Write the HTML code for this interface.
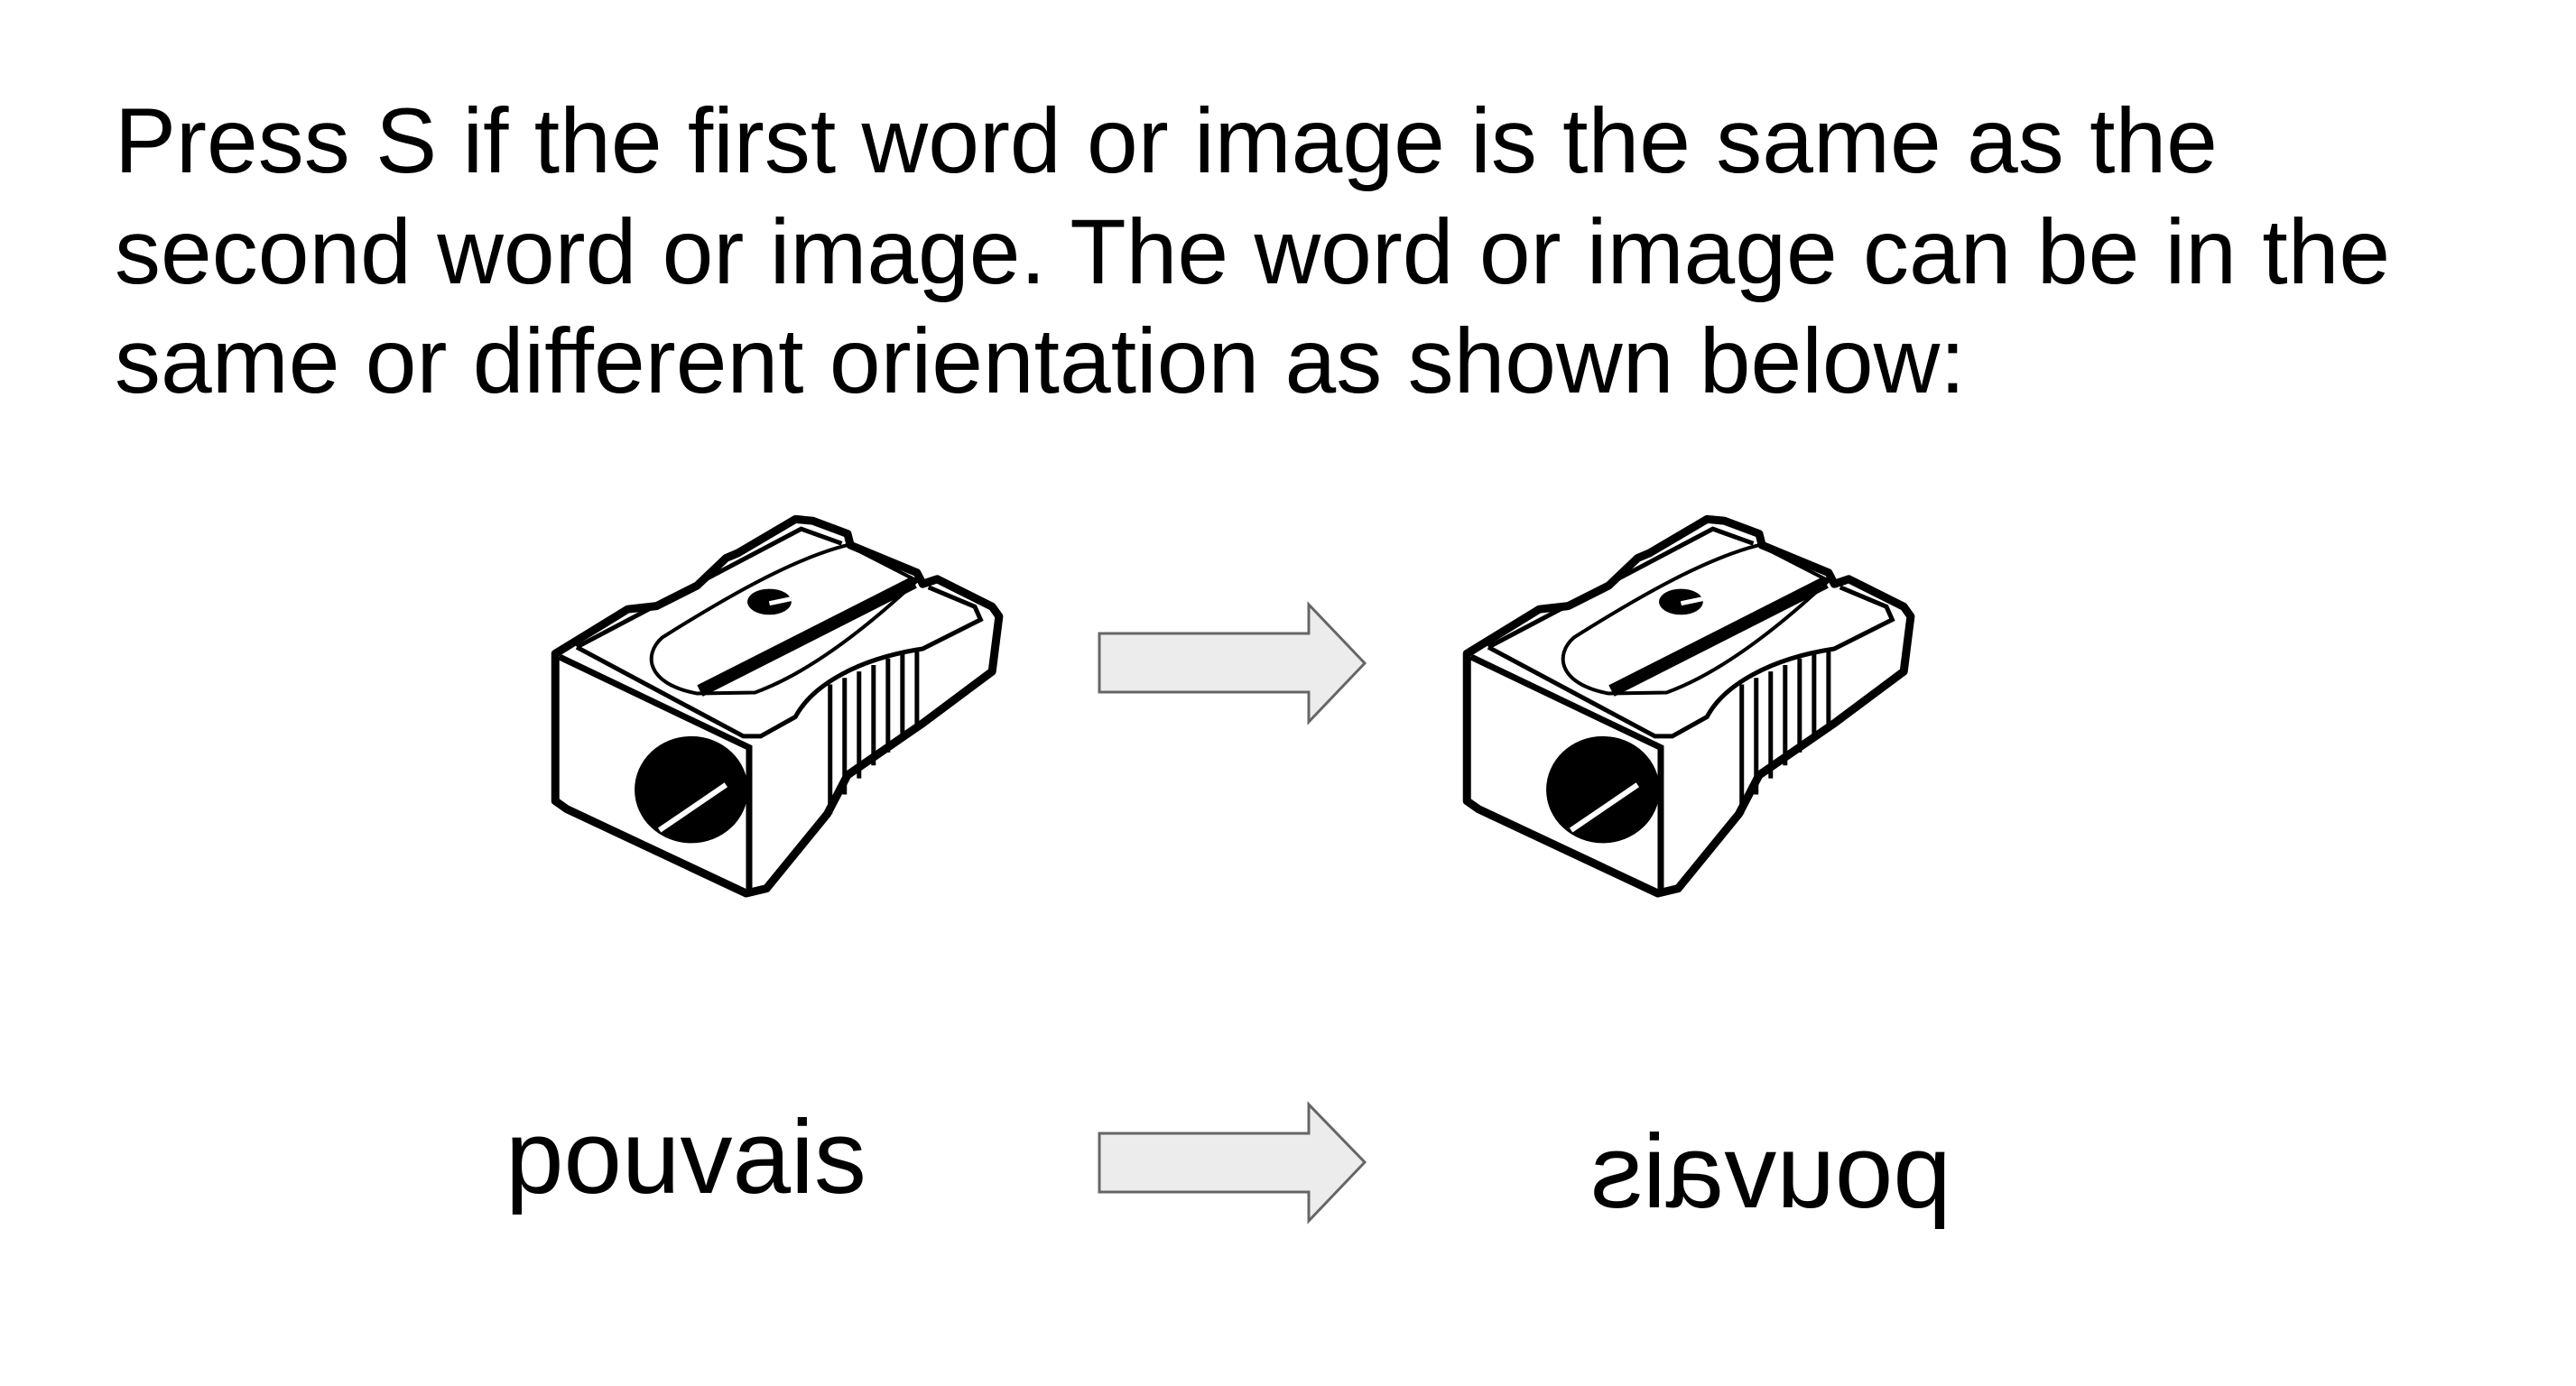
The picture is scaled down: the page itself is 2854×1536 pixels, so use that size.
<!DOCTYPE html>
<html><head><meta charset="utf-8"><style>
html,body{margin:0;padding:0;background:#fff;}
body{width:2854px;height:1536px;position:relative;overflow:hidden;font-family:"Liberation Sans",Arial,sans-serif;color:#000;}
.l{position:absolute;left:127px;font-size:102px;line-height:100px;white-space:nowrap;}
.w{position:absolute;font-size:116px;line-height:118px;white-space:nowrap;}
svg{position:absolute;left:0;top:0;}
</style></head><body>
<div class="l" style="top:106px">Press S if the first word or image is the same as the</div>
<div class="l" style="top:229px">second word or image. The word or image can be in the</div>
<div class="l" style="top:350px">same or different orientation as shown below:</div>

<svg width="2854" height="1536" viewBox="0 0 2854 1536">
<defs>
<g id="sh">
 <path d="M55,625 L180,488 L230,478 L300,415 L350,330 L370,315 L470,210 L500,215 L560,255 L565,290 L680,375 L690,410 L715,395 L810,480 L822,510 L810,680 L690,840 L560,1000 L525,1120 L420,1350 L385,1365 L75,1105 L55,1080 Z" fill="#fff" stroke="#000" stroke-width="9" vector-effect="non-scaling-stroke" stroke-linejoin="round"/>
 <path d="M62,635 L390,915 L390,1360" fill="none" stroke="#000" stroke-width="7" vector-effect="non-scaling-stroke"/>
 <path d="M92,605 L380,880 L410,880 L470,820 C500,720 580,640 690,610 L790,520 L780,480 L700,420" fill="none" stroke="#000" stroke-width="5" vector-effect="non-scaling-stroke"/>
 <path d="M92,605 L480,240 L550,285" fill="none" stroke="#000" stroke-width="5" vector-effect="non-scaling-stroke"/>
 <path d="M240,575 C205,630 215,720 300,748 L400,745 C470,700 560,600 680,400 L560,290 C470,330 360,440 240,575 Z" fill="none" stroke="#000" stroke-width="4" vector-effect="non-scaling-stroke"/>
 <path d="M305,740 L675,405" stroke="#000" stroke-width="14" vector-effect="non-scaling-stroke" fill="none"/>
 <ellipse cx="425" cy="465" rx="38" ry="40" fill="#000"/>
 <path d="M425,470 L465,455" stroke="#fff" stroke-width="5" vector-effect="non-scaling-stroke"/>
 <ellipse cx="290" cy="1045" rx="98" ry="165" fill="#000"/>
 <path d="M235,1170 L350,1030" stroke="#fff" stroke-width="6" vector-effect="non-scaling-stroke"/>
 <g stroke="#000" stroke-width="5">
  <path d="M530,720 L530,1120" vector-effect="non-scaling-stroke"/>
  <path d="M555,700 L555,1060" vector-effect="non-scaling-stroke"/>
  <path d="M580,680 L580,1010" vector-effect="non-scaling-stroke"/>
  <path d="M605,660 L605,970" vector-effect="non-scaling-stroke"/>
  <path d="M630,640 L630,930" vector-effect="non-scaling-stroke"/>
  <path d="M655,625 L655,890" vector-effect="non-scaling-stroke"/>
  <path d="M680,615 L680,850" vector-effect="non-scaling-stroke"/>
 </g>
</g>
</defs>
<g transform="translate(580,500) scale(0.641,0.359)"><use href="#sh"/></g>
<g transform="translate(1590,500) scale(0.641,0.359)"><use href="#sh"/></g>

<polygon points="1218,702 1450,702 1450,670 1512,735 1450,800 1450,767 1218,767" fill="#ececec" stroke="#666" stroke-width="3"/>
<polygon points="1218,1256 1450,1256 1450,1224 1512,1288 1450,1353 1450,1321 1218,1321" fill="#ececec" stroke="#666" stroke-width="3"/>
</svg>

<div class="w" style="left:560px;top:1223px;">pouvais</div>
<div class="w" style="left:1762px;top:1239px;transform:scaleX(-1);">pouvais</div>
</body></html>
